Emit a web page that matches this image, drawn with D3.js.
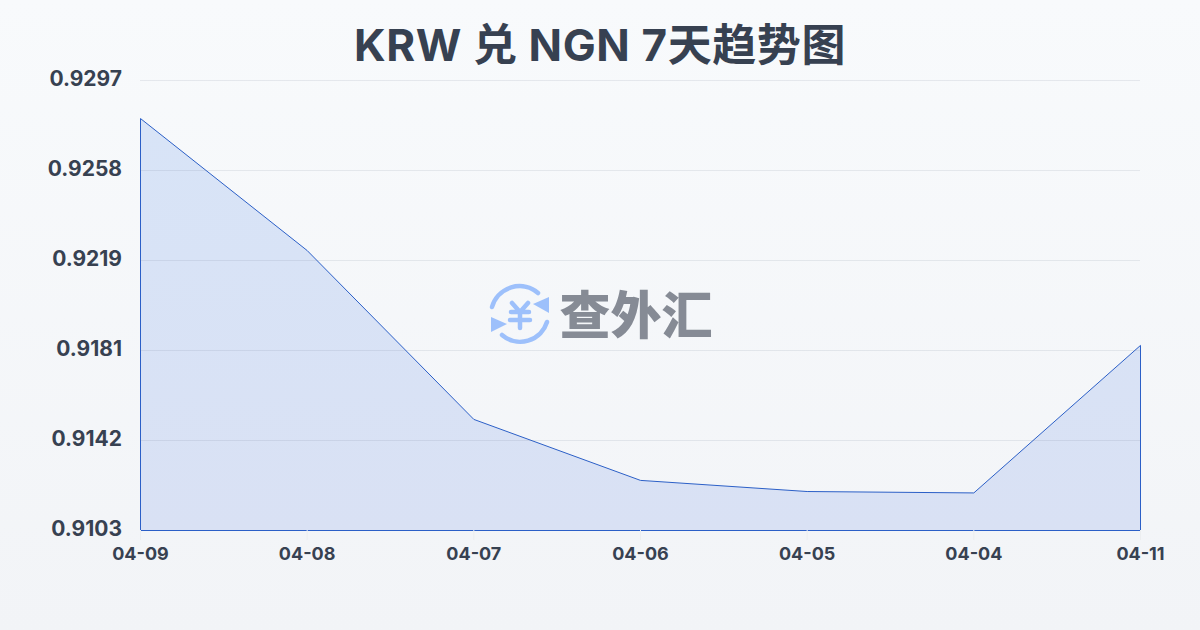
<!DOCTYPE html>
<html><head><meta charset="utf-8">
<script src="https://cdn.jsdelivr.net/npm/d3@7/dist/d3.min.js"></script>
<style>html,body{margin:0;padding:0;width:1200px;height:630px;overflow:hidden}svg{display:block}
text{font-family:"Inter","Noto Sans CJK SC",sans-serif}</style></head><body>
<script>
const titleText = "KRW 兑 NGN 7天趋势图";
const dates = ["04-09","04-08","04-07","04-06","04-05","04-04","04-11"];
const rates = [0.92806,0.92237,0.91509,0.91246,0.91198,0.91192,0.91828];
const yTicks = [0.9297,0.92582,0.92194,0.91806,0.91418,0.9103];
const yDomain = [0.9103,0.9297];

const svg = d3.select("body").append("svg").attr("width",1200).attr("height",630);
const defs = svg.append("defs");
const bg = defs.append("linearGradient").attr("id","bg").attr("x1",0).attr("y1",0).attr("x2",0).attr("y2",1);
bg.append("stop").attr("offset",0).attr("stop-color","#f8fafc");
bg.append("stop").attr("offset",1).attr("stop-color","#f2f4f7");
const ag = defs.append("linearGradient").attr("id","ag").attr("x1",0).attr("y1",0).attr("x2",0).attr("y2",1);
ag.append("stop").attr("offset",0).attr("stop-color","#d8e4f7");
ag.append("stop").attr("offset",1).attr("stop-color","#d9e1f4");
svg.append("rect").attr("width",1200).attr("height",630).attr("fill","url(#bg)");

const x = d3.scalePoint().domain(dates).range([140,1140]);
const y = d3.scaleLinear().domain(yDomain).range([530,80]);

svg.append("text").attr("x",600).attr("y",61).attr("text-anchor","middle").attr("letter-spacing",0.6)
  .attr("font-size",44).attr("font-weight",700).attr("fill","#374151").text(titleText);

// area
const area = d3.area().x((d,i)=>x(dates[i])).y0(y(yDomain[0])).y1(d=>y(d));
svg.append("path").datum(rates).attr("d",area).attr("transform","translate(0.5,0.5)")
  .attr("fill","url(#ag)").attr("stroke","#2b5fc7").attr("stroke-width",1).attr("stroke-linejoin","miter");

// grid, drawn over the fill
svg.append("g").selectAll("line").data(yTicks.slice(0,5)).join("line")
  .attr("x1",140).attr("x2",1140).attr("y1",d=>y(d)+.5).attr("y2",d=>y(d)+.5)
  .attr("stroke","#64748b").attr("stroke-opacity",0.13).attr("stroke-width",1);

// axes
const yAxis = d3.axisLeft(y).tickValues(yTicks).tickFormat(d3.format(".4f")).tickSize(0).tickPadding(18);
const gy = svg.append("g").attr("transform","translate(140,0)").call(yAxis);
gy.select(".domain").remove();
gy.selectAll("text").attr("font-size",21).attr("font-weight",700).attr("fill","#374151")
  .attr("dy","5.5px");

const xAxis = d3.axisBottom(x).tickSize(10).tickPadding(7);
const gx = svg.append("g").attr("transform","translate(0,530)").call(xAxis);
gx.select(".domain").remove();
gx.selectAll("line").attr("stroke","#eceef0");
gx.selectAll("text").attr("font-size",18).attr("font-weight",700).attr("fill","#374151");

// watermark
const w = svg.append("g").attr("transform","translate(520,315)");
const blue = "#9dc0fb";
w.append("path").attr("d","M-28,-8 A28.5,28.5 0 0 1 18,-22").attr("fill","none").attr("stroke",blue).attr("stroke-width",4.5).attr("stroke-linecap","round");
w.append("path").attr("d","M27,7 A28,28 0 0 1 -18,20").attr("fill","none").attr("stroke",blue).attr("stroke-width",4.5).attr("stroke-linecap","round");
w.append("path").attr("d","M29,-18 L29,-2 L13,-11 Z").attr("fill",blue);
w.append("path").attr("d","M-29,2 L-29,17 L-13,9 Z").attr("fill",blue);
w.append("path").attr("d","M-8,-12 L0,-3 L8,-12 M-9,-3 H9 M-10,5 H10 M0,-3 V13").attr("fill","none").attr("stroke",blue).attr("stroke-width",4.5).attr("stroke-linecap","round").attr("stroke-linejoin","round");
svg.append("text").attr("x",636).attr("y",333.5).attr("text-anchor","middle").attr("font-size",51).attr("font-weight",900)
  .attr("fill","#868b95").attr("style",'font-family:"Noto Sans CJK SC"').text("查外汇");
</script></body></html>
